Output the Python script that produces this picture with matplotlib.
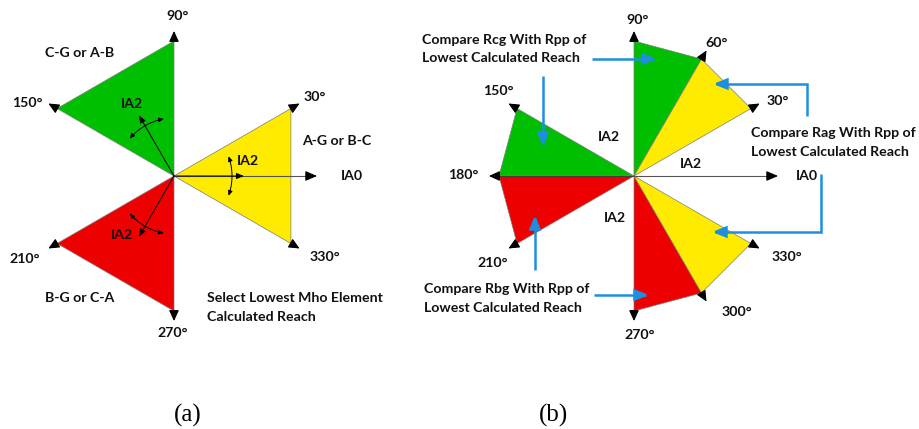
import numpy as np
import matplotlib
matplotlib.use("Agg")
import matplotlib.pyplot as plt
from matplotlib.patches import Polygon, FancyArrowPatch
from matplotlib.path import Path

# ---- data ----
GREEN = "#00bf00"
RED = "#ee0000"
YELLOW = "#ffeb00"
BLUE = "#1e8fe0"

reach = 135  # vertex radius of every zone

# (a) three 60-degree zones
left_zones_start = [90, 210, -30]
left_zones_end = [150, 270, 30]
left_zones_color = [GREEN, RED, YELLOW]
left_axes_angles = [90, 150, 30, 330, 210, 270]
left_axes_labels = ["90°", "150°", "30°", "330°", "210°", "270°"]
left_ia2_angles = [120, 0, 240]

# (b) six 30-degree zones
right_zones_start = [60, 150, 180, 270, 300, 30]
right_zones_end = [90, 180, 210, 300, 330, 60]
right_zones_color = [GREEN, GREEN, RED, RED, YELLOW, YELLOW]
right_axes_angles = [90, 60, 30, 150, 180, 210, 270, 300, 330]
right_axes_labels = ["90°", "60°", "30°", "150°", "180°", "210°", "270°", "300°", "330°"]

LABEL_FONT = dict(family="Lato", weight="bold", fontsize=10.2, color="#111111")
CAPTION_FONT = dict(family="Liberation Serif", fontsize=18, color="black")


def polar(r, deg):
    a = np.deg2rad(deg)
    return np.array([r * np.cos(a), r * np.sin(a)])


def draw_zone(ax, a0, a1, color):
    pts = [polar(0, 0), polar(reach, a0), polar(reach, a1)]
    ax.add_patch(Polygon(pts, closed=True, facecolor=color,
                         edgecolor="#7a7a7a", lw=0.5, zorder=1))


def draw_axis_tip(ax, deg):
    ax.annotate("", xy=polar(reach + 10, deg), xytext=polar(reach, deg),
                arrowprops=dict(arrowstyle="-|>,head_length=0.65,head_width=0.3",
                                color="black", lw=0.8, shrinkA=0, shrinkB=0),
                zorder=4)


def draw_ia0(ax, length):
    ax.plot([0, length - 8], [0, 0], color="#555555", lw=0.8, zorder=3)
    ax.annotate("", xy=(length, 0), xytext=(length - 9, 0),
                arrowprops=dict(arrowstyle="-|>,head_length=0.7,head_width=0.3",
                                color="black", lw=0.8, shrinkA=0, shrinkB=0),
                zorder=4)


def blue_arrow(ax, pts):
    verts = [tuple(p) for p in pts]
    path = Path(verts, [Path.MOVETO] + [Path.LINETO] * (len(verts) - 1))
    ax.add_patch(FancyArrowPatch(path=path,
                                 arrowstyle="-|>,head_length=8,head_width=3.2",
                                 color=BLUE, lw=1.8, zorder=5,
                                 joinstyle="miter", capstyle="butt"))


def setup(ax):
    ax.set_xlim(-174, 286)
    ax.set_ylim(-253, 176)
    ax.set_aspect("equal", adjustable="box")
    ax.axis("off")


fig = plt.figure(figsize=(9.19, 4.29), dpi=100)
axL = fig.add_axes([0, 0, 460 / 919, 1])
axR = fig.add_axes([460 / 919, 0, 460 / 919, 1])
setup(axL)
setup(axR)

# ---------------- (a) ----------------
for a0, a1, c in zip(left_zones_start, left_zones_end, left_zones_color):
    draw_zone(axL, a0, a1, c)
for ang in left_axes_angles:
    draw_axis_tip(axL, ang)
draw_ia0(axL, 143)

# IA2 phasors with their swing arcs
for ang in left_ia2_angles:
    axL.annotate("", xy=polar(70, ang), xytext=(0, 0),
                 arrowprops=dict(arrowstyle="-|>,head_length=0.45,head_width=0.18",
                                 color="black", lw=0.7, shrinkA=0, shrinkB=0),
                 zorder=4)
    th = np.linspace(ang - 20, ang + 20, 30)
    arc = np.array([polar(58, t) for t in th])
    axL.add_patch(FancyArrowPatch(path=Path(arc),
                                  arrowstyle="<|-|>,head_length=3,head_width=1.3",
                                  color="black", lw=0.7, zorder=4))

left_label_pos = [(4, 160), (-147, 73), (141, 79), (151, -81), (-149, -83), (-1, -157)]
for txt, (x, y) in zip(left_axes_labels, left_label_pos):
    axL.text(x, y, txt, ha="center", va="center", **LABEL_FONT)

axL.text(-94, 123, "C-G or A-B", ha="center", va="center", **LABEL_FONT)
axL.text(163, 35, "A-G or B-C", ha="center", va="center", **LABEL_FONT)
axL.text(-94, -122, "B-G or C-A", ha="center", va="center", **LABEL_FONT)
axL.text(167, 0, "IA0", ha="left", va="center", **LABEL_FONT)
axL.text(-42, 72, "IA2", ha="center", va="center", **LABEL_FONT)
axL.text(74, 15, "IA2", ha="center", va="center", **LABEL_FONT)
axL.text(-52, -59, "IA2", ha="center", va="center", **LABEL_FONT)
axL.text(33, -122, "Select Lowest Mho Element", ha="left", va="center", **LABEL_FONT)
axL.text(33, -141, "Calculated Reach", ha="left", va="center", **LABEL_FONT)
axL.text(14, -239, "(a)", ha="center", va="center", **CAPTION_FONT)

# ---------------- (b) ----------------
for a0, a1, c in zip(right_zones_start, right_zones_end, right_zones_color):
    draw_zone(axR, a0, a1, c)
axR.plot([0, -reach], [0, 0], color="#3a3a3a", lw=0.6, zorder=2)
for ang in right_axes_angles:
    draw_axis_tip(axR, ang)
draw_ia0(axR, 144)

right_label_pos = [(4, 156), (83, 133), (144, 75), (-136, 85), (-171, 1),
                   (-141, -87), (6, -159), (103, -136), (153, -81)]
for txt, (x, y) in zip(right_axes_labels, right_label_pos):
    axR.text(x, y, txt, ha="center", va="center", **LABEL_FONT)

axR.text(162, 0, "IA0", ha="left", va="center", **LABEL_FONT)
axR.text(-25, 39, "IA2", ha="center", va="center", **LABEL_FONT)
axR.text(57, 12, "IA2", ha="center", va="center", **LABEL_FONT)
axR.text(-19, -42, "IA2", ha="center", va="center", **LABEL_FONT)

axR.text(-212, 136, "Compare Rcg With Rpp of", ha="left", va="center", **LABEL_FONT)
axR.text(-212, 118, "Lowest Calculated Reach", ha="left", va="center", **LABEL_FONT)
axR.text(117, 43, "Compare Rag With Rpp of", ha="left", va="center", **LABEL_FONT)
axR.text(117, 24, "Lowest Calculated Reach", ha="left", va="center", **LABEL_FONT)
axR.text(-210, -113, "Compare Rbg With Rpp of", ha="left", va="center", **LABEL_FONT)
axR.text(-210, -132, "Lowest Calculated Reach", ha="left", va="center", **LABEL_FONT)

blue_arrow(axR, [(-42, 117), (23, 117)])
blue_arrow(axR, [(-91, 100), (-91, 29)])
blue_arrow(axR, [(173, 60), (173, 92), (79, 92)])
blue_arrow(axR, [(187, 2), (187, -56), (78, -56)])
blue_arrow(axR, [(-40, -119), (15, -119)])
blue_arrow(axR, [(-99, -94), (-99, -39)])

axR.text(-81, -239, "(b)", ha="center", va="center", **CAPTION_FONT)

for ax in (axL, axR):
    for child in ax.get_children():
        try:
            child.set_clip_on(False)
        except Exception:
            pass

fig.savefig("out.png", dpi=100, facecolor="white")
